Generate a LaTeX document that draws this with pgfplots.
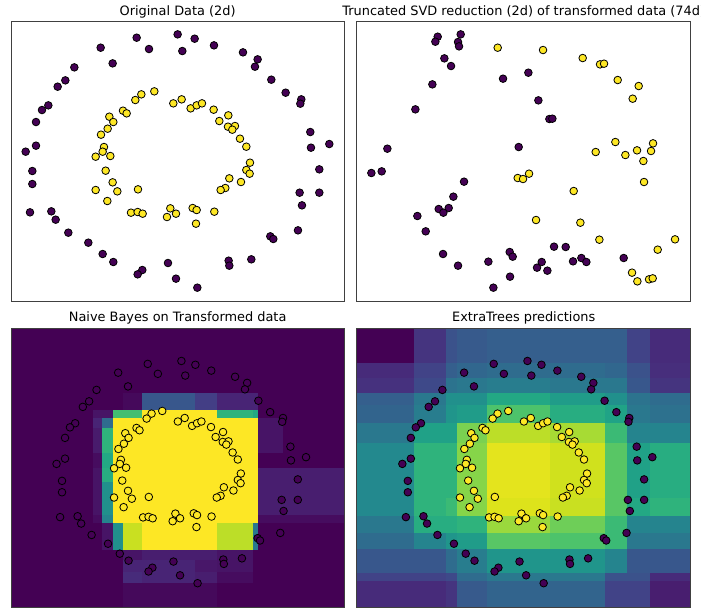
\documentclass[border=0pt]{standalone}
\usepackage{pgfplots}
\usepackage{pgfplotstable}
\pgfplotsset{compat=1.18}
\usepackage{fontspec}
\setmainfont{DejaVu Sans}
\definecolor{vpurple}{HTML}{440154}
\definecolor{vyellow}{HTML}{FDE725}
\newcommand\ttl{\fontsize{12.9}{15}\selectfont}

\pgfplotstableread[row sep=\\]{x y\\
410 -113\\ 533 -103\\ 584 -116\\ 642 -136\\ 447 -147\\ 547 -153\\ 302 -143\\ 338 -190\\ 223 -202\\ 196 -241\\
173 -260\\ 729 -157\\ 773 -178\\ 765 -200\\ 814 -239\\ 857 -278\\ 904 -298\\ 901 -311\\ 145 -316\\ 126 -330\\
108 -366\\ 931 -396\\ 108 -437\\ 77 -455\\ 933 -443\\ 988 -432\\ 97 -513\\ 958 -508\\ 97 -552\\ 899 -578\\
958 -578\\ 906 -616\\ 90 -637\\ 154 -634\\ 167 -659\\ 894 -691\\ 205 -698\\ 811 -709\\ 820 -717\\ 265 -728\\
308 -762\\ 340 -786\\ 686 -782\\ 754 -778\\ 688 -797\\ 504 -789\\ 427 -810\\ 413 -823\\ 528 -836\\ 592 -863\\
}\outerpts

\pgfplotstableread[row sep=\\]{x y\\
463 -274\\ 424 -283\\ 406 -300\\ 520 -310\\ 545 -298\\ 572 -325\\ 590 -316\\ 606 -310\\ 369 -332\\ 380 -340\\
641 -329\\ 685 -346\\ 328 -350\\ 340 -366\\ 658 -363\\ 323 -386\\ 684 -380\\ 705 -378\\ 697 -389\\ 303 -404\\
720 -416\\ 312 -441\\ 739 -440\\ 308 -455\\ 287 -470\\ 331 -468\\ 750 -488\\ 317 -512\\ 739 -510\\ 749 -521\\
688 -535\\ 338 -547\\ 723 -546\\ 352 -574\\ 287 -570\\ 414 -568\\ 676 -564\\ 662 -570\\ 322 -603\\ 393 -638\\
413 -636\\ 428 -641\\ 511 -625\\ 528 -641\\ 501 -651\\ 578 -624\\ 590 -630\\ 643 -635\\ 588 -671\\
}\innerpts

\pgfplotstableread[row sep=\\]{x y\\
263 -110\\ 256 -125\\ 332 -103\\ 324 -126\\ 327 -139\\ 283 -175\\ 303 -198\\ 247 -253\\ 196 -328\\ 459 -236\\
535 -218\\ 565 -301\\ 598 -357\\ 607 -356\\ 112 -446\\ 64 -519\\ 95 -514\\ 506 -441\\ 342 -545\\ 310 -590\\
266 -627\\ 296 -624\\ 280 -638\\ 202 -648\\ 227 -694\\ 279 -762\\ 324 -797\\ 415 -785\\ 479 -756\\ 488 -770\\
480 -830\\ 430 -863\\ 561 -803\\ 575 -786\\ 592 -812\\ 612 -740\\ 647 -741\\ 669 -784\\ 694 -774\\ 709 -786\\
821 -774\\
}\svdpurple

\pgfplotstableread[row sep=\\]{x y\\
443 -143\\ 579 -150\\ 698 -174\\ 750 -193\\ 762 -191\\ 803 -240\\ 866 -258\\ 848 -296\\ 796 -426\\ 737 -456\\
826 -465\\ 861 -451\\ 909 -430\\ 903 -453\\ 880 -483\\ 882 -546\\ 503 -534\\ 519 -537\\ 537 -521\\ 671 -573\\
558 -660\\ 691 -668\\ 748 -719\\ 975 -718\\ 923 -749\\ 846 -818\\ 862 -844\\ 897 -838\\ 908 -835\\
}\svdyellow

\pgfplotsset{
  every axis title/.style={at={(0.5,1)}, anchor=base, yshift=6.5pt, inner sep=0pt, font=\ttl},
  panel/.style={scale only axis, anchor=north west, ticks=none,
    axis line style={black!75, line width=0.9pt}},
  heat/.style={scale only axis, anchor=north west, hide axis,
    colormap/viridis, point meta min=0, point meta max=1},
  ppt/.style={only marks, mark=*, mark size=3.8pt,
    mark options={fill=vpurple, draw=black, line width=0.8pt}},
  ypt/.style={only marks, mark=*, mark size=3.8pt,
    mark options={fill=vyellow, draw=black, line width=0.8pt}},
}

\begin{document}
\begin{tikzpicture}
\path[use as bounding box] (0,0) rectangle (701pt,-609pt);
\fill[white] (0,0) rectangle (701pt,-609pt);

% ---------- Top left ----------
\begin{axis}[panel, at={(11pt,-21.7pt)}, width=333.3pt, height=279.3pt,
  xmin=33, xmax=1033, ymin=-903, ymax=-65, title={Original Data (2d)}]
\addplot[ppt] table {\outerpts};
\addplot[ypt] table {\innerpts};
\end{axis}

% ---------- Top right ----------
\begin{axis}[panel, at={(356.7pt,-21.7pt)}, width=334pt, height=279.3pt,
  xmin=20, xmax=1022, ymin=-903, ymax=-65,
  title={Truncated SVD reduction (2d) of transformed data (74d)}]
\addplot[ppt] table {\svdpurple};
\addplot[ypt] table {\svdyellow};
\end{axis}

% ---------- Bottom left: heat map ----------
\begin{axis}[heat, at={(11pt,-328.3pt)}, width=333.3pt, height=279.4pt,
  xmin=0, xmax=333.3, ymin=-279.4, ymax=0]
\addplot[surf, shader=flat corner, mesh/cols=12, point meta=explicit] coordinates {
(0,0)[0] (82,0)[0] (91,0)[0] (102,0)[0] (112,0)[0] (131,0)[0] (184,0)[0] (206,0)[0] (242,0)[0] (247,0)[0] (272,0)[0] (333,0)[0]
(0,-65)[0] (82,-65)[0] (91,-65)[0] (102,-65)[0] (112,-65)[0.02] (131,-65)[0.27] (184,-65)[0.18] (206,-65)[0.1] (242,-65)[0.1] (247,-65)[0] (272,-65)[0] (333,-65)[0]
(0,-82)[0] (82,-82)[0.05] (91,-82)[0.05] (102,-82)[0.7] (112,-82)[0.7] (131,-82)[1] (184,-82)[1] (206,-82)[0.65] (242,-82)[0.6] (247,-82)[0] (272,-82)[0] (333,-82)[0]
(0,-90)[0] (82,-90)[0.1] (91,-90)[0.35] (102,-90)[1] (112,-90)[1] (131,-90)[1] (184,-90)[1] (206,-90)[1] (242,-90)[1] (247,-90)[0.05] (272,-90)[0] (333,-90)[0]
(0,-100)[0] (82,-100)[0.07] (91,-100)[0.65] (102,-100)[1] (112,-100)[1] (131,-100)[1] (184,-100)[1] (206,-100)[1] (242,-100)[1] (247,-100)[0.05] (272,-100)[0] (333,-100)[0]
(0,-125)[0] (82,-125)[0.03] (91,-125)[0.6] (102,-125)[1] (112,-125)[1] (131,-125)[1] (184,-125)[1] (206,-125)[1] (242,-125)[1] (247,-125)[0] (272,-125)[0] (333,-125)[0]
(0,-140)[0] (82,-140)[0.05] (91,-140)[0.62] (102,-140)[1] (112,-140)[1] (131,-140)[1] (184,-140)[1] (206,-140)[1] (242,-140)[1] (247,-140)[0.08] (272,-140)[0.08] (333,-140)[0.08]
(0,-154)[0] (82,-154)[0.05] (91,-154)[0.5] (102,-154)[1] (112,-154)[1] (131,-154)[1] (184,-154)[1] (206,-154)[1] (242,-154)[1] (247,-154)[0.08] (272,-154)[0.08] (333,-154)[0.08]
(0,-187)[0] (82,-187)[0.03] (91,-187)[0.45] (102,-187)[1] (112,-187)[1] (131,-187)[1] (184,-187)[1] (206,-187)[1] (242,-187)[1] (247,-187)[0.03] (272,-187)[0.03] (333,-187)[0.03]
(0,-195)[0] (82,-195)[0] (91,-195)[0.05] (102,-195)[0.5] (112,-195)[0.92] (131,-195)[1] (184,-195)[1] (206,-195)[0.9] (242,-195)[0.4] (247,-195)[0] (272,-195)[0] (333,-195)[0]
(0,-222)[0] (82,-222)[0] (91,-222)[0] (102,-222)[0] (112,-222)[0.05] (131,-222)[0.08] (184,-222)[0.08] (206,-222)[0.05] (242,-222)[0] (247,-222)[0] (272,-222)[0] (333,-222)[0]
(0,-232)[0] (82,-232)[0] (91,-232)[0] (102,-232)[0] (112,-232)[0.1] (131,-232)[0.1] (184,-232)[0.06] (206,-232)[0.05] (242,-232)[0] (247,-232)[0] (272,-232)[0] (333,-232)[0]
(0,-244)[0] (82,-244)[0] (91,-244)[0] (102,-244)[0] (112,-244)[0.12] (131,-244)[0.1] (184,-244)[0.08] (206,-244)[0.03] (242,-244)[0] (247,-244)[0] (272,-244)[0] (333,-244)[0]
(0,-255)[0] (82,-255)[0] (91,-255)[0] (102,-255)[0] (112,-255)[0.02] (131,-255)[0.02] (184,-255)[0.02] (206,-255)[0] (242,-255)[0] (247,-255)[0] (272,-255)[0] (333,-255)[0]
(0,-280)[0] (82,-280)[0] (91,-280)[0] (102,-280)[0] (112,-280)[0.02] (131,-280)[0.02] (184,-280)[0.02] (206,-280)[0] (242,-280)[0] (247,-280)[0] (272,-280)[0] (333,-280)[0]
};
\end{axis}
\begin{axis}[panel, at={(11pt,-328.3pt)}, width=333.3pt, height=279.4pt,
  xmin=-89.3, xmax=1127.8, ymin=-946.8, ymax=8.7,
  title={Naive Bayes on Transformed data}]
\addplot[ppt] table {\outerpts};
\addplot[ypt] table {\innerpts};
\end{axis}

% ---------- Bottom right: heat map ----------
\begin{axis}[heat, at={(356.7pt,-328.3pt)}, width=334pt, height=279.4pt,
  xmin=0, xmax=334, ymin=-279.4, ymax=0]
\addplot[surf, shader=flat corner, mesh/cols=10, point meta=explicit] coordinates {
(0,0)[0] (57,0)[0.15] (89,0)[0.25] (100,0)[0.28] (130,0)[0.3] (193,0)[0.3] (248,0)[0.3] (270,0)[0.2] (293,0)[0.12] (334,0)[0.12]
(0,-35)[0.12] (57,-35)[0.2] (89,-35)[0.3] (100,-35)[0.33] (130,-35)[0.35] (193,-35)[0.35] (248,-35)[0.33] (270,-35)[0.25] (293,-35)[0.13] (334,-35)[0.13]
(0,-50)[0.14] (57,-50)[0.22] (89,-50)[0.38] (100,-50)[0.4] (130,-50)[0.42] (193,-50)[0.4] (248,-50)[0.4] (270,-50)[0.27] (293,-50)[0.15] (334,-50)[0.15]
(0,-65)[0.3] (57,-65)[0.4] (89,-65)[0.5] (100,-65)[0.5] (130,-65)[0.6] (193,-65)[0.55] (248,-65)[0.5] (270,-65)[0.38] (293,-65)[0.35] (334,-65)[0.35]
(0,-77)[0.32] (57,-77)[0.42] (89,-77)[0.52] (100,-77)[0.55] (130,-77)[0.72] (193,-77)[0.62] (248,-77)[0.58] (270,-77)[0.4] (293,-77)[0.37] (334,-77)[0.37]
(0,-95)[0.4] (57,-95)[0.57] (89,-95)[0.57] (100,-95)[0.8] (130,-95)[0.9] (193,-95)[0.87] (248,-95)[0.68] (270,-95)[0.45] (293,-95)[0.45] (334,-95)[0.45]
(0,-115)[0.47] (57,-115)[0.65] (89,-115)[0.65] (100,-115)[0.82] (130,-115)[0.96] (193,-115)[0.93] (248,-115)[0.74] (270,-115)[0.57] (293,-115)[0.62] (334,-115)[0.62]
(0,-170)[0.47] (57,-170)[0.65] (89,-170)[0.68] (100,-170)[0.82] (130,-170)[0.95] (193,-170)[0.92] (248,-170)[0.74] (270,-170)[0.6] (293,-170)[0.65] (334,-170)[0.65]
(0,-188)[0.4] (57,-188)[0.62] (89,-188)[0.62] (100,-188)[0.65] (130,-188)[0.85] (193,-188)[0.78] (248,-188)[0.68] (270,-188)[0.45] (293,-188)[0.45] (334,-188)[0.45]
(0,-205)[0.35] (57,-205)[0.45] (89,-205)[0.52] (100,-205)[0.55] (130,-205)[0.74] (193,-205)[0.72] (248,-205)[0.68] (270,-205)[0.4] (293,-205)[0.4] (334,-205)[0.4]
(0,-221)[0.27] (57,-221)[0.27] (89,-221)[0.35] (100,-221)[0.42] (130,-221)[0.52] (193,-221)[0.52] (248,-221)[0.45] (270,-221)[0.27] (293,-221)[0.27] (334,-221)[0.27]
(0,-245)[0.2] (57,-245)[0.2] (89,-245)[0.22] (100,-245)[0.35] (130,-245)[0.4] (193,-245)[0.4] (248,-245)[0.25] (270,-245)[0.25] (293,-245)[0.12] (334,-245)[0.12]
(0,-253)[0.12] (57,-253)[0.12] (89,-253)[0.15] (100,-253)[0.28] (130,-253)[0.32] (193,-253)[0.32] (248,-253)[0.2] (270,-253)[0.2] (293,-253)[0.08] (334,-253)[0.08]
(0,-280)[0.12] (57,-280)[0.12] (89,-280)[0.15] (100,-280)[0.28] (130,-280)[0.32] (193,-280)[0.32] (248,-280)[0.2] (270,-280)[0.2] (293,-280)[0.08] (334,-280)[0.08]
};
\end{axis}
\begin{axis}[panel, at={(356.7pt,-328.3pt)}, width=334pt, height=279.4pt,
  xmin=-89.3, xmax=1127.8, ymin=-946.8, ymax=8.7,
  title={ExtraTrees predictions}]
\addplot[ppt] table {\outerpts};
\addplot[ypt] table {\innerpts};
\end{axis}
\end{tikzpicture}
\end{document}
